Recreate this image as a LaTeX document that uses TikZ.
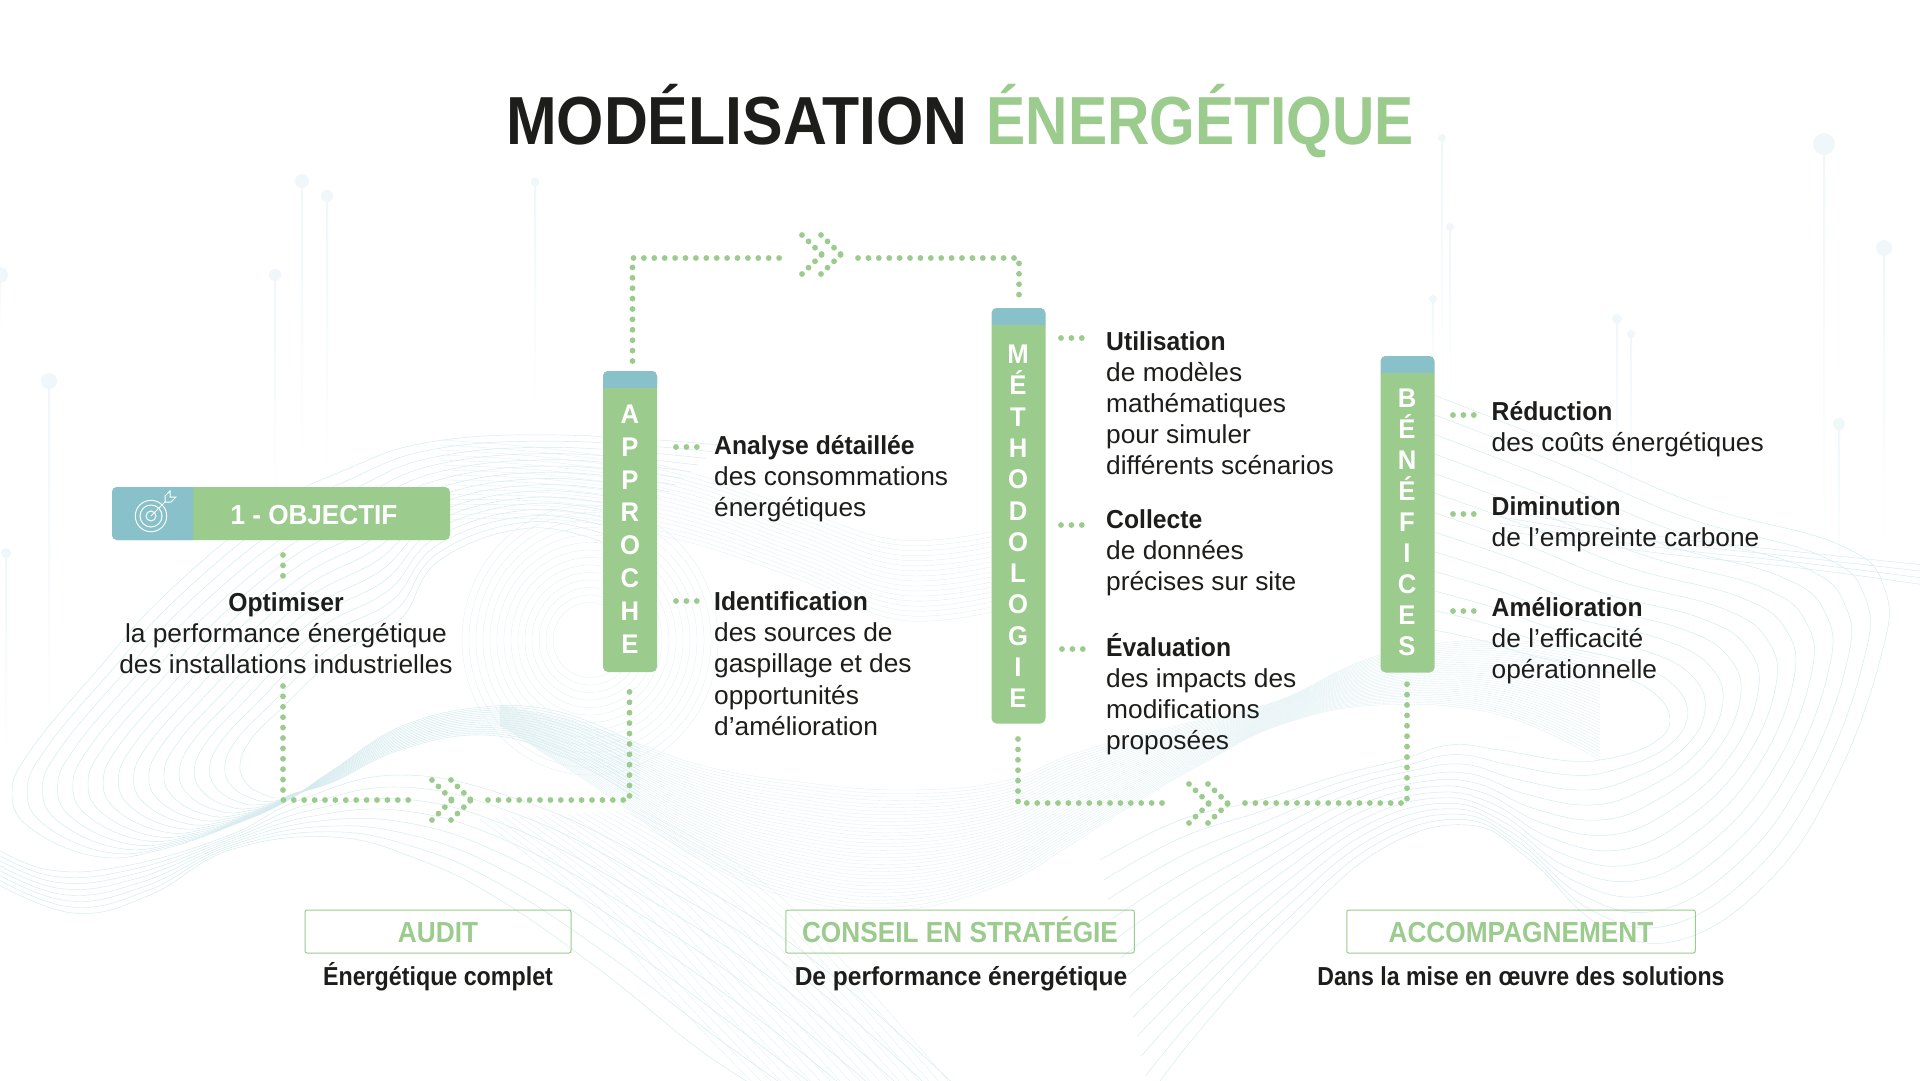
\documentclass[tikz,border=0pt]{standalone}
\usepackage{fontspec}
\setmainfont[FakeStretch=1.012]{Liberation Sans}
\newfontfamily\fbx[FakeStretch=0.95]{Liberation Sans}
\newfontfamily\ftitlea[FakeStretch=0.894]{Liberation Sans}
\newfontfamily\ftitleb[FakeStretch=0.863]{Liberation Sans}
\newfontfamily\ftag[FakeStretch=0.905]{Liberation Sans}
\newfontfamily\fcapa[FakeStretch=0.894]{Liberation Sans}
\newfontfamily\fcapb[FakeStretch=0.943]{Liberation Sans}
\newfontfamily\fcapc[FakeStretch=0.889]{Liberation Sans}
\newcommand\bt[1]{{\fbx\bfseries #1}}
\definecolor{gr}{HTML}{9BCB8D}
\definecolor{bl}{HTML}{88C1CA}
\definecolor{ink}{HTML}{1D1D1B}
\definecolor{pinc}{HTML}{EFF7FA}
\definecolor{wavec}{HTML}{D3EAEE}
\definecolor{wavet}{HTML}{DDEFF2}
\newcommand\wavefam[3]{%
 \foreach \k in {0,...,#1}{%
  \pgfmathsetmacro\myt{\k/#1}%
  \gdef\pts{}%
  \foreach \xa/\ya/\xb/\yb in {#3}{%
    \pgfmathsetmacro\px{\xa+(\xb-\xa)*\myt}%
    \pgfmathsetmacro\py{\ya+(\yb-\ya)*\myt}%
    \xdef\pts{\pts (\px,\py)}}%
  \edef\cmd{\noexpand\draw[#2] plot[smooth,tension=.7] coordinates {\pts};}\cmd
 }}
\newcommand\pin[4]{%
 \shade[top color=pinc,bottom color=white] (#1-1,#2) rectangle (#1+1,#4);
 \fill[pinc] (#1,#2) circle (#3);}
\tikzset{
 wave/.style={wavec,line width=0.45pt},
 wavethin/.style={wavet,line width=0.3pt},
 dots/.style={gr,line width=5.8pt,line cap=round,dash pattern=on 0pt off 10.4pt},
 chev/.style={gr,line width=5.8pt,line cap=round,dash pattern=on 0pt off 9.1pt},
 barbox/.style={fill=gr,rounded corners=5pt,minimum width=54pt,inner sep=0pt},
 letter/.style={text=white,font=\fbx\fontsize{27}{27}\selectfont\bfseries,anchor=base,inner sep=0pt},
 body/.style={text=ink,anchor=base west,inner sep=0pt,font=\fontsize{26}{31.2}\selectfont},
 bodyc/.style={text=ink,anchor=base,inner sep=0pt,font=\fontsize{26}{31.2}\selectfont},
 tag/.style={draw=gr,line width=1pt,rounded corners=2pt,minimum height=43pt,inner sep=0pt},
 tagtext/.style={text=gr,anchor=base,inner sep=0pt,font=\ftag\fontsize{29}{29}\selectfont\bfseries},
 captxt/.style={text=ink,anchor=base,inner sep=0pt,font=\fontsize{26}{26}\selectfont\bfseries},
}
\begin{document}
\begin{tikzpicture}[x=1pt,y=-1pt]
\fill[white] (0,0) rectangle (1920,1080);
\useasboundingbox (0,0) rectangle (1920,1080);
\begin{scope}
\clip (0,0) rectangle (1920,1080);
% pins
\pin{302}{181}{7}{470}
\pin{327}{196}{6}{480}
\pin{535}{182}{4.5}{420}
\pin{275}{275}{6}{500}
\pin{49}{381}{8}{760}
\pin{6}{553}{5}{760}
\pin{0}{275}{8}{330}
\pin{1442}{138}{4}{400}
\pin{1450}{227}{4}{400}
\pin{1433}{299}{4}{370}
\pin{1617}{319}{5}{520}
\pin{1631}{334}{4}{520}
\pin{1824}{144}{11}{560}
\pin{1884}{248}{8}{560}
\pin{1839}{424}{6}{620}
% left loop contours
\wavefam{15}{wave}{720/445/610/545,560/435/530/528,430/442/440/560,345/470/400/620,267/510/345/650,167/593/310/680,100/667/285/705,33/747/252/738,12/793/240/765,33/830/248/785,100/857/265/795,167/848/275/798,233/825/283/798,283/803/295/793,333/770/333/782,400/727/400/750,483/707/483/735,560/712/560/755,640/745/640/800}
% left lower descending contours
\wavefam{7}{wave}{-10/880/-10/845,73/913/50/870,150/895/130/865,230/850/230/835,333/837/300/800,420/860/400/775,500/900/520/800,600/970/650/860,700/1050/800/950,770/1095/960/1090}
% rings
\foreach \r in {1,...,14}{\draw[wavethin] (590,640) ellipse ({30+\r*7} and {30+\r*7.5});}
% central dense band
\wavefam{34}{wavethin}{500/705/500/725,600/730/600/790,700/765/700/860,800/782/800/900,900/790/900/910,1000/782/1000/885,1070/755/1070/845,1140/735/1140/800,1200/720/1200/765,1280/700/1280/725,1380/655/1380/705,1500/640/1500/715,1600/655/1600/760}
\wavefam{16}{wavethin}{440/440/440/520,560/450/560/520,680/470/680/540,800/510/800/580,900/540/900/620,1000/530/1000/610}
% lines lower centre
\wavefam{20}{wavethin}{480/819/640/810,587/905/760/880,673/1000/860/980,765/1095/960/1095}
% right contours
\wavefam{12}{wave}{1434/395/1434/630,1560/445/1480/640,1700/505/1530/655,1840/545/1600/670,1885/590/1650/690,1880/660/1670/720,1835/781/1650/745,1770/880/1600/760,1680/940/1560/760,1600/925/1500/750,1530/860/1450/745,1468/825/1400/760,1380/850/1340/775,1290/930/1260/800,1200/1030/1180/820,1150/1095/1100/860}
\wavefam{3}{wave}{1500/510/1500/530,1650/535/1650/552,1800/552/1800/568,1925/565/1925/585}
\end{scope}
% title
\node[anchor=base,inner sep=0pt,font=\fontsize{68}{68}\selectfont\bfseries] (title) at (960,144) {\textcolor{ink}{\ftitlea MODÉLISATION} \textcolor{gr}{\ftitleb ÉNERGÉTIQUE}};
% objective
\node[fill=gr,rounded corners=5pt,minimum width=338pt,minimum height=53pt,inner sep=0pt] (obj) at (281,513.5) {};
\begin{scope}
\clip (112,487) rectangle (193,540);
\fill[bl,rounded corners=5pt] (112,487) rectangle (220,540);
\end{scope}
\begin{scope}[white,line width=1pt]
\draw (151,516) circle (15.7);
\draw (151,516) circle (11);
\draw (151,516) circle (5);
\draw (151,516) -- (165,502);
\draw (165,502) -- (165,496) -- (170,491) -- (170,497) -- (176,497) -- (171,502) -- cycle;
\end{scope}
\node[anchor=base,inner sep=0pt,text=white,font=\fbx\fontsize{27.5}{27.5}\selectfont\bfseries] (objt) at (314,524) {1 - OBJECTIF};
\node[bodyc] (objb) at (286,611) {\begin{tabular}[t]{@{}c@{}}\bt{Optimiser}\\la performance énergétique\\des installations industrielles\end{tabular}};
\coordinate (o1) at (283,555);
\coordinate (o2) at (283,576);
\draw[dots] (o1) -- (o2);
% bars
\node[barbox,minimum height=301pt] (app) at (630,521.5) {};
\begin{scope}\clip (603,371) rectangle (657,387);\fill[bl,rounded corners=5pt] (603,371) rectangle (657,400);\end{scope}
\node[barbox,minimum height=415.5pt] (met) at (1018.5,515.75) {};
\begin{scope}\clip (992,308) rectangle (1045,324);\fill[bl,rounded corners=5pt] (992,308) rectangle (1045,340);\end{scope}
\node[barbox,minimum height=316.5pt] (ben) at (1407.5,514.25) {};
\begin{scope}\clip (1381,356) rectangle (1434,372);\fill[bl,rounded corners=5pt] (1381,356) rectangle (1434,390);\end{scope}
\foreach \l [count=\i from 0] in {A,P,P,R,O,C,H,E}
  \node[letter] (appl\i) at ({630},{423.5+\i*32.8}) {\l};
\foreach \l [count=\i from 0] in {M,É,T,H,O,D,O,L,O,G,I,E}
  \node[letter] (metl\i) at ({1018},{363.5+\i*31.3}) {\l};
\foreach \l [count=\i from 0] in {B,É,N,É,F,I,C,E,S}
  \node[letter] (benl\i) at ({1407},{407.5+\i*31}) {\l};
% short dots
\foreach \nm/\xa/\yy in {a1/676/447,a2/676/601,m1/1061/338,m2/1061/525,m3/1062/649,b1/1453/415,b2/1453/514,b3/1453/611}{
  \coordinate (\nm s) at (\xa,\yy);
  \coordinate (\nm e) at (\xa+21,\yy);
  \draw[dots] (\nm s) -- (\nm e);
}
% body text
\node[body] (t1) at (714,454) {\begin{tabular}[t]{@{}l@{}}\bt{Analyse détaillée}\\des consommations\\énergétiques\end{tabular}};
\node[body] (t2) at (714,610.5) {\begin{tabular}[t]{@{}l@{}}\bt{Identification}\\des sources de\\gaspillage et des\\opportunités\\d’amélioration\end{tabular}};
\node[body] (t3) at (1106,350) {\begin{tabular}[t]{@{}l@{}}\bt{Utilisation}\\de modèles\\mathématiques\\pour simuler\\différents scénarios\end{tabular}};
\node[body] (t4) at (1106,528) {\begin{tabular}[t]{@{}l@{}}\bt{Collecte}\\de données\\précises sur site\end{tabular}};
\node[body] (t5) at (1106,656) {\begin{tabular}[t]{@{}l@{}}\bt{Évaluation}\\des impacts des\\modifications\\proposées\end{tabular}};
\node[body] (t6) at (1491.5,420) {\begin{tabular}[t]{@{}l@{}}\bt{Réduction}\\des coûts énergétiques\end{tabular}};
\node[body] (t7) at (1491.5,515.5) {\begin{tabular}[t]{@{}l@{}}\bt{Diminution}\\de l’empreinte carbone\end{tabular}};
\node[body] (t8) at (1491.5,616) {\begin{tabular}[t]{@{}l@{}}\bt{Amélioration}\\de l’efficacité\\opérationnelle\end{tabular}};
% route 1
\coordinate (r1a) at (632.5,361);
\coordinate (r1b) at (632.5,258);
\coordinate (r1c) at (781,258);
\coordinate (r1d) at (858,258);
\coordinate (r1e) at (1019,258);
\coordinate (r1f) at (1019,296);
\draw[dots] (r1a) -- (r1b) -- (r1c);
\draw[dots] (r1d) -- (r1e) -- (r1f);
\foreach \n/\cx in {a/802,b/821}{
 \coordinate (c1\n1) at (\cx,235); \coordinate (c1\n2) at (\cx+20,254.5); \coordinate (c1\n3) at (\cx,274);
 \draw[chev] (c1\n1) -- (c1\n2); \draw[chev] (c1\n3) -- (c1\n2);}
% route 2
\coordinate (r2a) at (283,686);
\coordinate (r2b) at (283,800);
\coordinate (r2c) at (411,800);
\coordinate (r2d) at (488,800);
\coordinate (r2e) at (629.5,800);
\coordinate (r2f) at (629.5,686);
\draw[dots] (r2a) -- (r2b) -- (r2c);
\draw[dots] (r2d) -- (r2e) -- (r2f);
\foreach \n/\cx in {a/432,b/451}{
 \coordinate (c2\n1) at (\cx,780); \coordinate (c2\n2) at (\cx+20,800); \coordinate (c2\n3) at (\cx,820);
 \draw[chev] (c2\n1) -- (c2\n2); \draw[chev] (c2\n3) -- (c2\n2);}
% route 3
\coordinate (r3a) at (1018,739);
\coordinate (r3b) at (1018,803);
\coordinate (r3c) at (1169,803);
\coordinate (r3d) at (1245,803);
\coordinate (r3e) at (1407,803);
\coordinate (r3f) at (1407,678);
\draw[dots] (r3a) -- (r3b) -- (r3c);
\draw[dots] (r3d) -- (r3e) -- (r3f);
\foreach \n/\cx in {a/1189,b/1208}{
 \coordinate (c3\n1) at (\cx,784); \coordinate (c3\n2) at (\cx+20,803.5); \coordinate (c3\n3) at (\cx,823);
 \draw[chev] (c3\n1) -- (c3\n2); \draw[chev] (c3\n3) -- (c3\n2);}
% bottom tags
\node[tag,minimum width=266pt] (b1) at (438,931.5) {};
\node[tag,minimum width=348.5pt] (b2) at (960,931.5) {};
\node[tag,minimum width=348.5pt] (b3) at (1521,931.5) {};
\node[tagtext] (b1t) at (438,942) {AUDIT};
\node[tagtext] (b2t) at (960,942) {CONSEIL EN STRATÉGIE};
\node[tagtext] (b3t) at (1521,942) {ACCOMPAGNEMENT};
\node[captxt] (b1c) at (438,985) {\fcapa Énergétique complet};
\node[captxt] (b2c) at (961,985) {\fcapb De performance énergétique};
\node[captxt] (b3c) at (1521,985) {\fcapc Dans la mise en œuvre des solutions};
\end{tikzpicture}
\end{document}
